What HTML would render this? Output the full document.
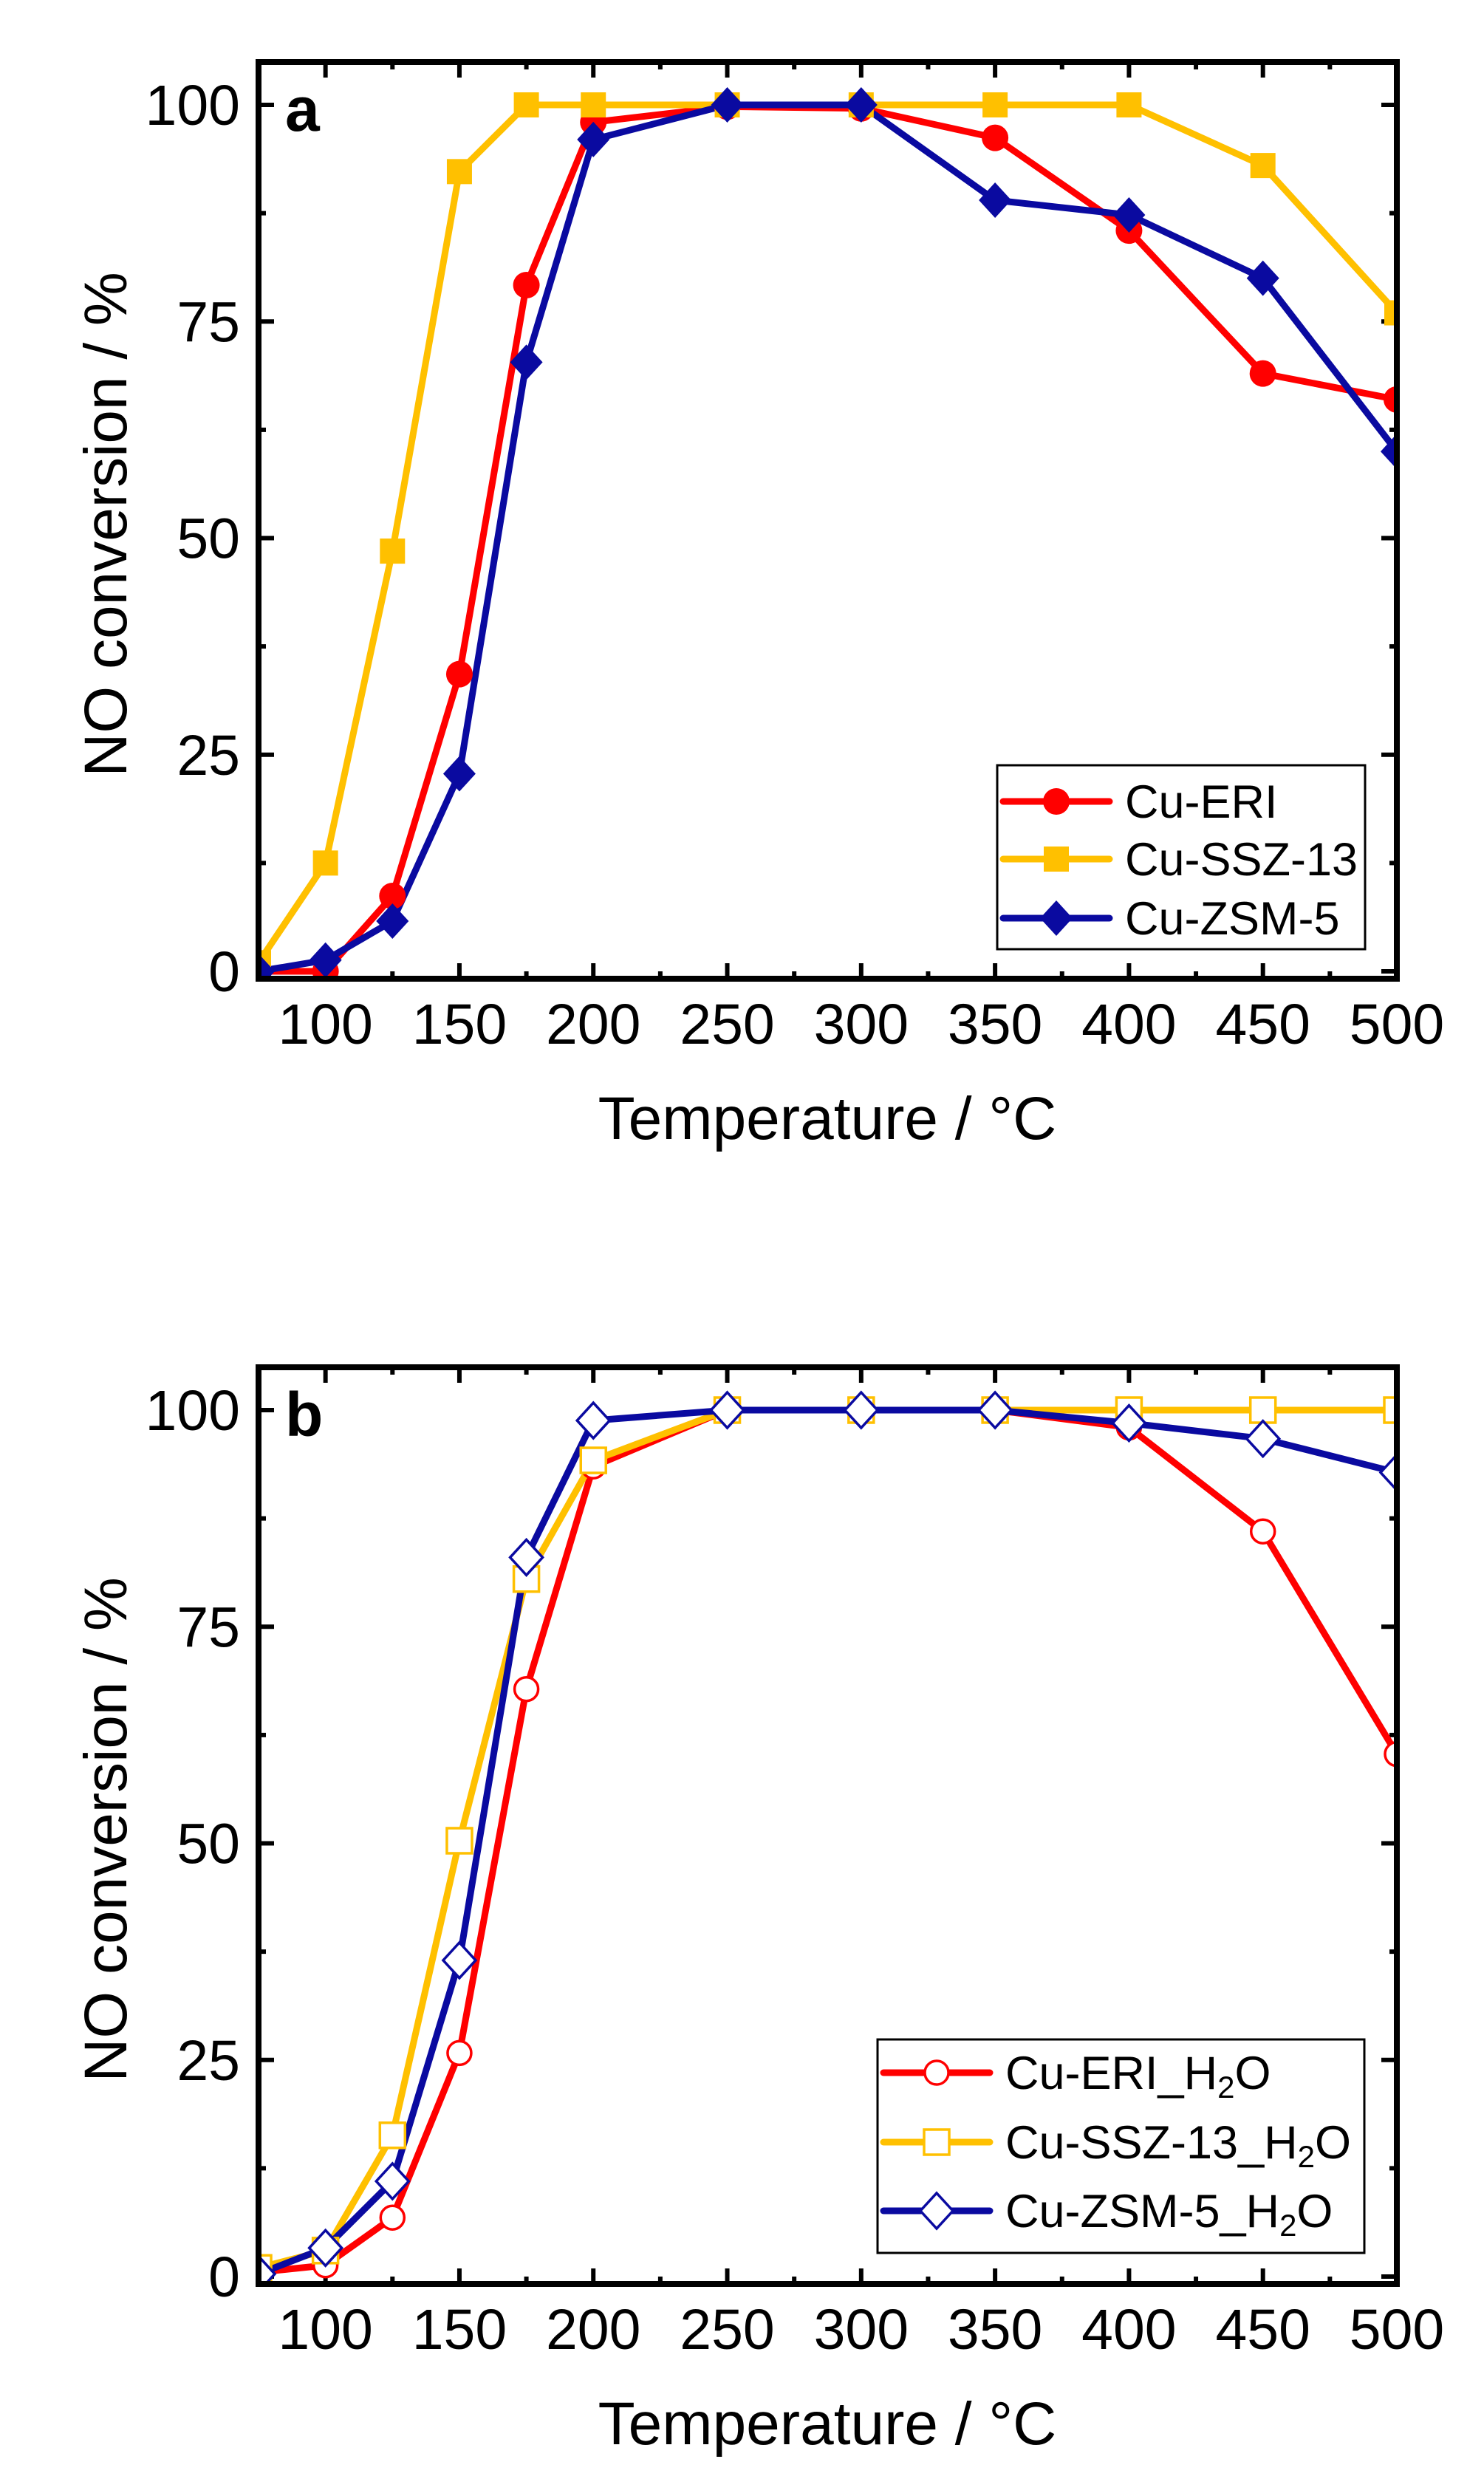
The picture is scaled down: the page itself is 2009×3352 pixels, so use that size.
<!DOCTYPE html>
<html><head><meta charset="utf-8">
<style>
html,body{margin:0;padding:0;background:#fff;}
svg{display:block;font-family:"Liberation Sans",Arial,sans-serif;}
</style></head>
<body>
<svg id="chart" width="2009" height="3352" viewBox="0 0 2009 3352" xmlns="http://www.w3.org/2000/svg"></svg>
<script>
const temps = [75,100,125,150,175,200,250,300,350,400,450,500];
const eriA  = [0,0,8.7,34.3,79.2,98,99.8,99.6,96.2,85.5,69,66];
const sszA  = [1,12.5,48.5,92.3,100,100,100,100,100,100,93,76];
const zsmA  = [0,1.3,5.8,22.8,70.3,96,100,100,89,87.3,80,60];
const eriB  = [0.5,1.3,6.8,25.8,67.8,93.5,100,100,100,98,86,60.3];
const sszB  = [1,3,16.3,50.3,80.5,94.2,100,100,100,100,100,100];
const zsmB  = [0.3,3.3,11,36.5,83,98.8,100,100,100,98.5,96.7,92.8];
const xTicks = [100,150,200,250,300,350,400,450,500];
const yTicks = [0,25,50,75,100];
const namesA = ["Cu-ERI","Cu-SSZ-13","Cu-ZSM-5"];
const namesB = ["Cu-ERI_H","Cu-SSZ-13_H","Cu-ZSM-5_H"];

const NS="http://www.w3.org/2000/svg";
const svg=document.getElementById('chart');
function mk(tag,attrs,parent){const e=document.createElementNS(NS,tag);for(const k in attrs)e.setAttribute(k,attrs[k]);(parent||svg).appendChild(e);return e;}
const L=350,R=1891,T0=84,B0=1325;
const sx=v=>L+(v-75)*(R-L)/425;
const colors=["#ff0000","#ffc000","#0a0aa0"];

function panel(off,series,names,hollow,letter,leg){
  const g=mk('g',{});
  
  
  const T=T0+off,B=B0+off;
  const sy=v=>(1315+off)-v*(1315-142)/100;
  for(let v=75;v<=500;v+=25){
    const x=sx(v),len=(v%50===0)?21:10;
    const t1=mk('line',{x1:x,x2:x,y1:B,y2:B-len,stroke:'#000','stroke-width':6},g);
    
    const t2=mk('line',{x1:x,x2:x,y1:T,y2:T+len,stroke:'#000','stroke-width':6},g);
    
  }
  for(let v=0;v<=100;v+=12.5){
    const y=sy(v),len=(v%25===0)?21:10;
    const t1=mk('line',{x1:L,x2:L+len,y1:y,y2:y,stroke:'#000','stroke-width':6},g);
    
    const t2=mk('line',{x1:R,x2:R-len,y1:y,y2:y,stroke:'#000','stroke-width':6},g);
    
  }
  xTicks.forEach(v=>{const t=mk('text',{x:sx(v),y:1413+off,'font-size':77,'text-anchor':'middle'},g);t.textContent=v;
    });
  yTicks.forEach(v=>{const t=mk('text',{x:325,y:sy(v)+27,'font-size':77,'text-anchor':'end'},g);t.textContent=v;
    });
  const xt=mk('text',{x:1120,y:1542+off,'font-size':82,'text-anchor':'middle'},g);xt.textContent='Temperature / °C';
  
  const yt=mk('text',{x:0,y:0,'font-size':82,'text-anchor':'middle',transform:`translate(171,${710+off}) rotate(-90)`},g);yt.textContent='NO conversion / %';
  
  const lt=mk('text',{x:386,y:177+off,'font-size':84,'font-weight':'bold'},g);lt.textContent=letter;
  
  const cp=mk('clipPath',{id:'clip'+letter},g);mk('rect',{x:L,y:T,width:R-L,height:B-T},cp);
  const dg=mk('g',{'clip-path':`url(#clip${letter})`},g);
  function marker(i,x,y,parent){
    const c=colors[i],fill=hollow?'#fff':c,sw=hollow?3.5:0;let m;
    if(i===0)m=mk('circle',{cx:x,cy:y,r:hollow?16:18,fill:fill,stroke:c,'stroke-width':sw},parent);
    else if(i===1)m=mk('rect',{x:x-17,y:y-17,width:34,height:34,fill:fill,stroke:c,'stroke-width':sw},parent);
    else m=mk('polygon',{points:`${x},${y-24} ${x+22},${y} ${x},${y+24} ${x-22},${y}`,fill:fill,stroke:c,'stroke-width':sw},parent);
    return m;
  }
  series.forEach((vals,i)=>{
    const pts=temps.map((t,j)=>sx(t)+','+sy(vals[j])).join(' ');
    const pl=mk('polyline',{points:pts,fill:'none',stroke:colors[i],'stroke-width':9,'stroke-linejoin':'round'},dg);
    
    
  });
  series.forEach((vals,i)=>{
    temps.forEach((t,j)=>{const m=marker(i,sx(t),sy(vals[j]),dg);
      
      });
  });
  const fr=mk('rect',{x:L,y:T,width:R-L,height:B-T,fill:'none',stroke:'#000','stroke-width':8},g);
  
  const lg=mk('g',{},g);
  
  const lb=mk('rect',{x:leg.x,y:leg.y+off,width:leg.w,height:leg.h,fill:'#fff',stroke:'#000','stroke-width':3},lg);
  
  names.forEach((n,i)=>{
    const y=leg.rows[i]+off;
    const e=mk('g',{},lg);
    
    
    mk('line',{x1:leg.x+8,x2:leg.x+152,y1:y,y2:y,stroke:colors[i],'stroke-width':9,'stroke-linecap':'round'},e);
    marker(i,leg.x+80,y,e);
    const tx=mk('text',{x:leg.x+173,y:y+22,'font-size':63},e);
    if(hollow){tx.textContent=n;const s=mk('tspan',{'font-size':42,dy:12},tx);s.textContent='2';const o=mk('tspan',{dy:-12},tx);o.textContent='O';}
    else tx.textContent=n;
  });
}
panel(0,[eriA,sszA,zsmA],namesA,false,'a',{x:1350,y:1036,w:498,h:249,rows:[1085,1163,1243]});
panel(1767,[eriB,sszB,zsmB],namesB,true,'b',{x:1188,y:994,w:659,h:289,rows:[1039,1133,1226]});
</script>
</body></html>
